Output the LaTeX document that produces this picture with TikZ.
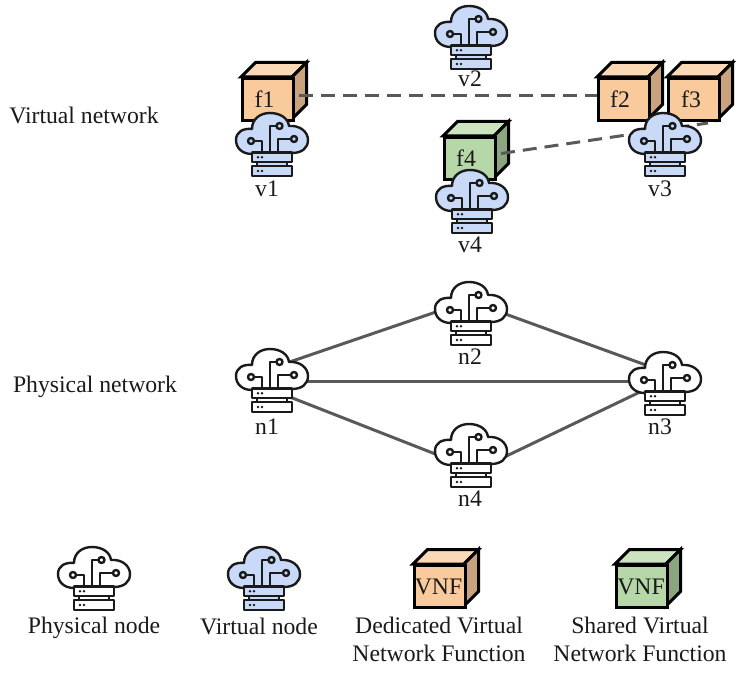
\documentclass[tikz,border=0pt]{standalone}
\usepackage{fontspec}
\setmainfont{Liberation Serif}
\definecolor{vblue}{HTML}{C9DAF8}
\definecolor{ink}{HTML}{1A1A1A}
\definecolor{orF}{HTML}{F9CB9C}
\definecolor{orT}{HTML}{FCD9B6}
\definecolor{orS}{HTML}{C9A37E}
\definecolor{grF}{HTML}{B6D7A8}
\definecolor{grT}{HTML}{CBE3BF}
\definecolor{grS}{HTML}{8BA67F}
\definecolor{linkc}{HTML}{595959}
\tikzset{
  x=1pt,y=-1pt,
  lbl/.style={inner sep=0pt,font=\fontsize{23.7}{28}\selectfont,text=ink,align=center},
  iconbox/.style={inner sep=0pt,minimum width=72pt,minimum height=64pt},
  facebox/.style={inner sep=0pt,minimum width=51pt,minimum height=42pt,draw=black,line width=3pt,text=ink},
  phys/.style={draw=linkc,line width=3pt},
  virt/.style={draw=linkc,line width=3pt,dash pattern=on 14pt off 8pt},
  pics/cloudicon/.style={code={
    \begin{scope}[draw=ink,line width=2.4pt,line join=round,line cap=round]
    \path[draw,fill=#1] (-20,42) .. controls (-30,42) and (-36,36) .. (-36,28)
      .. controls (-36,20) and (-29,16) .. (-20,17)
      .. controls (-20,7) and (-12,1) .. (-2,1)
      .. controls (8,1) and (16,6) .. (17,14)
      .. controls (28,13) and (36,20) .. (36,28)
      .. controls (36,36) and (30,41) .. (20,41) -- cycle;
    \path[draw] (-17.5,29) -- (-10,29) -- (-10,41);
    \path[draw] (-2,41) -- (-2,14) -- (4.5,14);
    \path[draw] (6,41) -- (6,27) -- (19,27);
    \path[draw,fill=#1] (-21,29) circle (3);
    \path[draw,fill=#1] (7.5,14) circle (3);
    \path[draw,fill=#1] (22,27) circle (3);
    \path[draw,fill=#1] (-15,50) rectangle (15,54);
    \path[draw,fill=#1] (-20,40.5) rectangle (20,50);
    \path[draw,fill=#1] (-20,54) rectangle (20,64);
    \path[fill=ink] (-14,45.2) circle (1.4) (-10,45.2) circle (1.4) (-14,59) circle (1.4) (-10,59) circle (1.4);
    \end{scope}
  }}
}
% name, x, y of front-face top-left, text, colours, text offset
\newcommand{\cubenode}[8]{%
  \path[draw=black,line width=3pt,line join=miter,fill=#6] (#2,#3) -- (#2+14.5,#3-14.5) -- (#2+65.5,#3-14.5) -- (#2+51,#3) -- cycle;
  \path[draw=black,line width=3pt,line join=miter,fill=#7] (#2+51,#3) -- (#2+65.5,#3-14.5) -- (#2+65.5,#3+27.5) -- (#2+51,#3+42) -- cycle;
  \node[facebox,fill=#5,anchor=north west] (#1) at (#2,#3) {};
  \node[inner sep=0pt,font=\fontsize{23.7}{29}\selectfont,text=ink] (#1t) at ([xshift=#8]#1.center) {#4};
}
\begin{document}
\begin{tikzpicture}
\useasboundingbox (0,0) rectangle (755,679);
% anchor boxes for clouds
\foreach \nm/\cx/\ty in {n1/272/348,n2/471/281,n3/665/351,n4/471/423,v1/272/112,v2/471/5,v3/665/112,v4/472/169}{
  \node[iconbox] (\nm) at (\cx,\ty+32) {};
}
% physical links
\draw[phys] ([yshift=12pt]n1.center) -- ([yshift=13pt]n2.center);
\draw[phys] ([yshift=11.5pt]n2.center) -- ([yshift=11pt]n3.center);
\draw[phys] ([yshift=-1pt]n1.center) -- ([yshift=2pt]n3.center);
\draw[phys] ([yshift=-10pt]n1.center) -- ([yshift=-13pt]n4.center);
\draw[phys] ([yshift=-18pt]n4.center) -- ([yshift=3pt]n3.center);
% clouds
\pic at (272,348) {cloudicon=white};
\pic at (471,281) {cloudicon=white};
\pic at (665,351) {cloudicon=white};
\pic at (471,423) {cloudicon=white};
\pic at (94,546) {cloudicon=white};
\pic at (471,5) {cloudicon=vblue};
% cubes
\cubenode{f1}{241}{77}{f1}{orF}{orT}{orS}{-3.5pt}
\cubenode{f2}{597}{77}{f2}{orF}{orT}{orS}{-4pt}
\cubenode{f3}{667}{77}{f3}{orF}{orT}{orS}{-3pt}
\cubenode{f4}{443}{136}{f4}{grF}{grT}{grS}{-4pt}
\cubenode{l1}{413}{564}{VNF}{orF}{orT}{orS}{-1.5pt}
\cubenode{l2}{615}{564}{VNF}{grF}{grT}{grS}{-1pt}
% virtual links
\draw[virt] ([xshift=4pt,yshift=3.5pt]f1.east) -- ([yshift=3.5pt]f2.west);
\draw[virt] ([xshift=4pt,yshift=5pt]f4.east) -- ([xshift=-13pt,yshift=-1pt]f3.south east);
% virtual clouds over cubes
\pic at (272,112) {cloudicon=vblue};
\pic at (665,112) {cloudicon=vblue};
\pic at (472,169) {cloudicon=vblue};
\pic at (264,546) {cloudicon=vblue};
% labels
\node[lbl] (lv1) at (267,189) {v1};
\node[lbl] (lv2) at (470,79) {v2};
\node[lbl] (lv3) at (660,189) {v3};
\node[lbl] (lv4) at (470,245) {v4};
\node[lbl] (ln1) at (267,427) {n1};
\node[lbl] (ln2) at (470,357) {n2};
\node[lbl] (ln3) at (660,427) {n3};
\node[lbl] (ln4) at (470,499) {n4};
\node[lbl] (tv) at (84,115) {Virtual network};
\node[lbl] (tp) at (95,387) {Physical network};
\node[lbl] (t1) at (94,628) {Physical node};
\node[lbl] (t2) at (259,626) {Virtual node};
\node[lbl,anchor=north] (t3) at (439,617) {Dedicated Virtual\\Network Function};
\node[lbl,anchor=north] (t4) at (640,617) {Shared Virtual\\Network Function};
\end{tikzpicture}
\end{document}
